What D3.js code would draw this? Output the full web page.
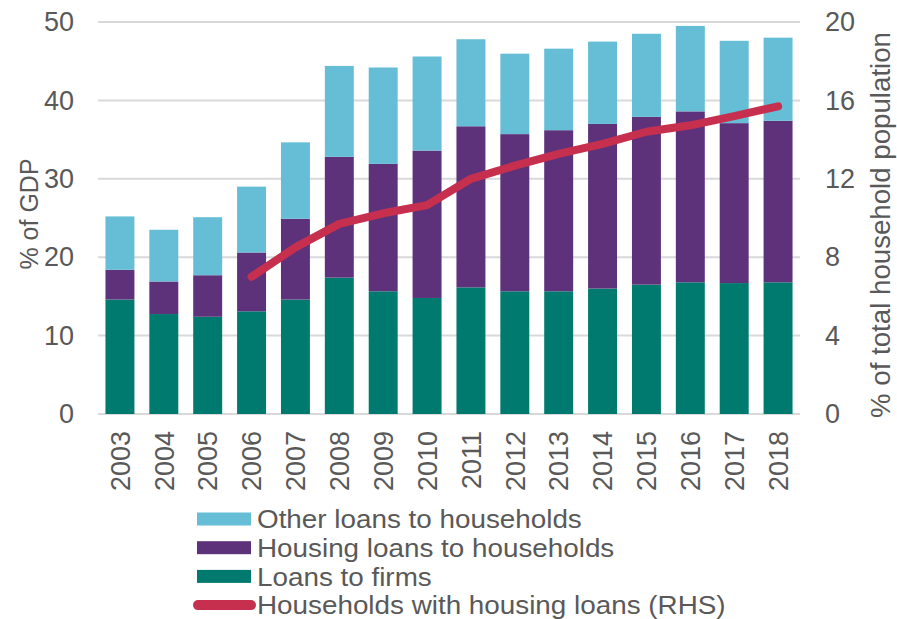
<!DOCTYPE html>
<html><head><meta charset="utf-8">
<script src="https://cdn.jsdelivr.net/npm/d3@7"></script>
<style>
html,body{margin:0;padding:0;background:#fff;}
svg text{font-family:"Liberation Sans",Arial,sans-serif;fill:#595959;}
</style></head>
<body>
<svg id="chart" width="897" height="619"></svg>
<script>
const years = ["2003","2004","2005","2006","2007","2008","2009","2010","2011","2012","2013","2014","2015","2016","2017","2018"];
const loansToFirms = [14.6,12.75,12.4,13.1,14.6,17.4,15.65,14.8,16.15,15.65,15.65,16.0,16.5,16.8,16.7,16.8];
const housingLoans = [3.8,4.15,5.3,7.5,10.3,15.4,16.25,18.8,20.55,20.05,20.55,21.0,21.4,21.8,20.4,20.6];
const otherLoans = [6.8,6.6,7.4,8.4,9.75,11.6,12.3,12.0,11.1,10.26,10.4,10.5,10.6,10.9,10.5,10.6];
const householdsWithLoans = [null,null,null,7.0,8.5,9.7,10.24,10.66,12.0,12.67,13.27,13.78,14.4,14.73,15.2,15.7];
const leftTicks = [0,10,20,30,40,50];
const rightTicks = [0,4,8,12,16,20];

const seriesNames = ["Loans to firms","Housing loans to households","Other loans to households"];
const colors = {"Loans to firms":"#007a6f","Housing loans to households":"#5e327b","Other loans to households":"#65bed5"};
const lineColor = "#c6304e";

const svg = d3.select("#chart");
const pLeft = 98, pRight = 800, pTop = 22, pBottom = 414;

const x = d3.scaleBand().domain(years).range([pLeft, pRight]).paddingInner(0.34).paddingOuter(0.17);
const y = d3.scaleLinear().domain([0,50]).range([pBottom, pTop]);
const y2 = d3.scaleLinear().domain([0,20]).range([pBottom, pTop]);

// gridlines
svg.append("g").selectAll("line").data(leftTicks).join("line")
  .attr("x1", pLeft).attr("x2", pRight)
  .attr("y1", d => y(d)).attr("y2", d => y(d))
  .attr("stroke", "#d9d9d9").attr("stroke-width", 2);

// stacked bars
const rows = years.map((yr,i) => ({year: yr, "Loans to firms": loansToFirms[i], "Housing loans to households": housingLoans[i], "Other loans to households": otherLoans[i]}));
const stack = d3.stack().keys(seriesNames)(rows);
svg.append("g").selectAll("g").data(stack).join("g")
  .attr("fill", d => colors[d.key])
  .selectAll("rect").data(d => d).join("rect")
  .attr("x", d => x(d.data.year))
  .attr("width", x.bandwidth())
  .attr("y", d => y(d[1]))
  .attr("height", d => y(d[0]) - y(d[1]));

// line
const lineData = years.map((yr,i) => ({year: yr, v: householdsWithLoans[i]})).filter(d => d.v != null);
svg.append("path").datum(lineData)
  .attr("fill","none").attr("stroke", lineColor).attr("stroke-width", 8)
  .attr("stroke-linecap","round").attr("stroke-linejoin","round")
  .attr("d", d3.line().x(d => x(d.year) + x.bandwidth()/2).y(d => y2(d.v)));

// left axis
const fs = 27;
const la = svg.append("g").attr("transform", `translate(${pLeft},0)`)
  .call(d3.axisLeft(y).tickValues(leftTicks).tickSize(0).tickPadding(24));
la.select(".domain").remove();
la.selectAll("text").style("font-size", fs+"px").style("fill","#595959").attr("font-family",null);

// right axis
const ra = svg.append("g").attr("transform", `translate(${pRight},0)`)
  .call(d3.axisRight(y2).tickValues(rightTicks).tickSize(0).tickPadding(25));
ra.select(".domain").remove();
ra.selectAll("text").style("font-size", fs+"px").style("fill","#595959").attr("font-family",null);

// x axis
const xa = svg.append("g").attr("transform", `translate(0,${pBottom})`)
  .call(d3.axisBottom(x).tickSize(0));
xa.select(".domain").remove();
xa.selectAll("text").style("font-size", fs+"px").style("fill","#595959").attr("font-family",null)
  .attr("transform","rotate(-90)")
  .attr("text-anchor","end")
  .attr("x", -17).attr("y", 0).attr("dy","0.36em");

// axis titles
svg.append("text").attr("transform", `translate(29,214) rotate(-90)`)
  .attr("text-anchor","middle").attr("dy","0.35em")
  .style("font-size","25px").text("% of GDP");
svg.append("text").attr("transform", `translate(881,225) rotate(-90)`)
  .attr("text-anchor","middle").attr("dy","0.35em")
  .style("font-size","27px").attr("textLength", 386).attr("lengthAdjust","spacingAndGlyphs")
  .text("% of total household population");

// legend
const legendItems = [
  {name:"Other loans to households", type:"rect", color: colors["Other loans to households"]},
  {name:"Housing loans to households", type:"rect", color: colors["Housing loans to households"]},
  {name:"Loans to firms", type:"rect", color: colors["Loans to firms"]},
  {name:"Households with housing loans (RHS)", type:"line", color: lineColor}
];
const lg = svg.append("g");
const li = lg.selectAll("g").data(legendItems).join("g")
  .attr("transform", (d,i) => `translate(0,${519 + i*28.7})`);
li.filter(d => d.type === "rect").append("rect")
  .attr("x", 197).attr("y", -6.5).attr("width", 54).attr("height", 13)
  .attr("fill", d => d.color);
li.filter(d => d.type === "line").append("line")
  .attr("x1", 198).attr("x2", 251).attr("y1", 0).attr("y2", 0)
  .attr("stroke", d => d.color).attr("stroke-width", 10).attr("stroke-linecap","round");
li.append("text").attr("x", 257).attr("dy","0.35em")
  .style("font-size","26px").text(d => d.name)
  .each(function(){
    const w = this.getComputedTextLength();
    d3.select(this).attr("textLength", w*1.07).attr("lengthAdjust","spacingAndGlyphs");
  });
</script>
</body></html>
